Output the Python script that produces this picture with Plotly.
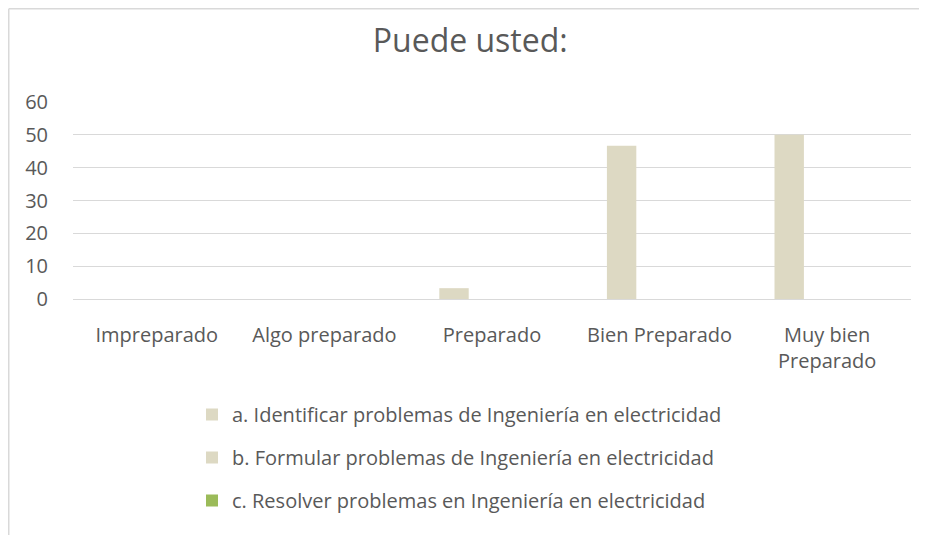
import plotly.graph_objects as go

categories = ["Impreparado", "Algo preparado", "Preparado", "Bien Preparado", "Muy bien<br>Preparado"]
series_names = [
    "a. Identificar problemas de Ingeniería en electricidad",
    "b. Formular problemas de Ingeniería en electricidad",
    "c. Resolver problemas en Ingeniería en electricidad",
]
series_a = [0, 0, 3.3, 46.7, 50]
series_b = [0, 0, 0, 0, 0]
series_c = [0, 0, 0, 0, 0]
colors = ["#DDD9C3", "#DDD9C3", "#9BBB59"]
y_ticks = [0, 10, 20, 30, 40, 50, 60]

FONT = "Open Sans"
TXT = "#595959"
GRID = "#D9D9D9"

W, H = 919, 527
L, R, T, B = 65, 16, 94, 236
PW, PH = W - L - R, H - T - B

fig = go.Figure()
for i, (name, vals) in enumerate(zip(series_names, [series_a, series_b, series_c])):
    fig.add_trace(go.Bar(
        x=categories, y=vals, name=name,
        marker=dict(color=colors[i], line=dict(width=0)),
        legendgroup=f"g{i}",
    ))

fig.update_layout(
    width=W, height=H,
    margin=dict(l=L, r=R, t=T, b=B),
    paper_bgcolor="white", plot_bgcolor="white",
    barmode="group", bargap=0.32, bargroupgap=0.226,
    font=dict(family=FONT, color=TXT, size=20),
    title=dict(text="Puede usted:", x=0.503, xanchor="center", y=1 - 33/H, yanchor="middle",
               font=dict(family=FONT, size=32, color=TXT)),
    xaxis=dict(showgrid=False, showline=True, linecolor=GRID, linewidth=1,
               ticks="outside", ticklen=0, tickfont=dict(size=20, color=TXT),
               ticklabelstandoff=18),
    yaxis=dict(range=[0, 60], tickvals=y_ticks, showgrid=True, gridcolor=GRID, gridwidth=1,
               zeroline=False, showline=False, tickfont=dict(size=20, color=TXT),
               ticklabelstandoff=24),
    legend=dict(orientation="v", x=(184 - L) / PW, xanchor="left", y=-(387 - (T + PH)) / PH,
                yanchor="top", font=dict(size=20, color=TXT), tracegroupgap=14, itemwidth=30,
                bgcolor="rgba(0,0,0,0)"),
    showlegend=True,
    shapes=[
        dict(type="line", xref="paper", yref="paper",
             x0=-(L - 0.75) / PW, x1=1 + R / PW, y0=1 + (T - 0.75) / PH, y1=1 + (T - 0.75) / PH,
             line=dict(color=GRID, width=1.5)),
        dict(type="line", xref="paper", yref="paper",
             x0=-(L - 0.75) / PW, x1=-(L - 0.75) / PW, y0=1 + (T - 0.75) / PH, y1=-B / PH,
             line=dict(color=GRID, width=1.5)),
    ],
)

fig.write_html("out.html")
